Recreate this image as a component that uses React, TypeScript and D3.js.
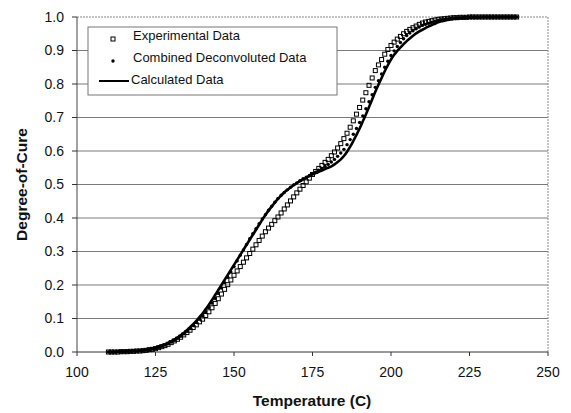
import React from "react";
import * as d3 from "d3";

const temps: number[] = d3.range(110, 241, 1);

const calculated: number[] = [
  0, 0, 0, 0.001, 0.001, 0.001, 0.002, 0.002, 0.003, 0.003,
  0.004, 0.005, 0.006, 0.008, 0.010, 0.012, 0.015, 0.018, 0.022, 0.027,
  0.032, 0.037, 0.043, 0.050, 0.057, 0.065, 0.074, 0.083, 0.093, 0.104,
  0.115, 0.128, 0.141, 0.155, 0.170, 0.185, 0.200, 0.215, 0.230, 0.245,
  0.260, 0.275, 0.290, 0.305, 0.320, 0.335, 0.350, 0.365, 0.380, 0.395,
  0.409, 0.422, 0.434, 0.446, 0.457, 0.467, 0.476, 0.484, 0.491, 0.498,
  0.504, 0.510, 0.515, 0.520, 0.525, 0.530, 0.534, 0.538, 0.542, 0.546,
  0.550, 0.554, 0.560, 0.567, 0.575, 0.585, 0.598, 0.613, 0.630, 0.648,
  0.667, 0.688, 0.709, 0.731, 0.754, 0.777, 0.798, 0.818, 0.838, 0.856,
  0.873, 0.887, 0.899, 0.909, 0.919, 0.928, 0.936, 0.944, 0.951, 0.957,
  0.962, 0.967, 0.972, 0.976, 0.980, 0.984, 0.987, 0.989, 0.991, 0.993,
  0.995, 0.996, 0.997, 0.997, 0.998, 0.998, 0.999, 0.999, 0.999, 1.0,
  1, 1, 1, 1, 1, 1, 1, 1, 1, 1, 1,
];

const experimental: number[] = [
  0, 0, 0, 0, 0.001, 0.001, 0.001, 0.002, 0.002, 0.003,
  0.003, 0.004, 0.005, 0.007, 0.008, 0.010, 0.013, 0.016, 0.019, 0.023,
  0.028, 0.033, 0.038, 0.044, 0.051, 0.058, 0.065, 0.073, 0.081, 0.090,
  0.098, 0.109, 0.120, 0.132, 0.145, 0.159, 0.173, 0.187, 0.201, 0.215,
  0.229, 0.242, 0.255, 0.268, 0.281, 0.294, 0.307, 0.320, 0.333, 0.346,
  0.359, 0.370, 0.381, 0.392, 0.403, 0.415, 0.427, 0.439, 0.451, 0.463,
  0.475, 0.486, 0.497, 0.508, 0.519, 0.530, 0.539, 0.548, 0.557, 0.566,
  0.575, 0.586, 0.597, 0.609, 0.622, 0.637, 0.653, 0.671, 0.690, 0.710,
  0.730, 0.752, 0.774, 0.796, 0.818, 0.840, 0.857, 0.873, 0.889, 0.903,
  0.915, 0.925, 0.934, 0.942, 0.950, 0.957, 0.963, 0.968, 0.973, 0.978,
  0.982, 0.985, 0.987, 0.989, 0.991, 0.993, 0.994, 0.995, 0.996, 0.997,
  0.998, 0.998, 0.999, 0.999, 0.999, 1.0, 1.0, 1.0, 1.0, 1.0,
  1, 1, 1, 1, 1, 1, 1, 1, 1, 1, 1,
];

const deconvoluted: number[] = [
  0, 0, 0, 0.001, 0.001, 0.001, 0.002, 0.002, 0.003, 0.003,
  0.004, 0.005, 0.006, 0.007, 0.009, 0.011, 0.014, 0.017, 0.021, 0.025,
  0.030, 0.035, 0.041, 0.047, 0.054, 0.062, 0.070, 0.079, 0.088, 0.098,
  0.108, 0.120, 0.133, 0.146, 0.160, 0.175, 0.191, 0.207, 0.223, 0.239,
  0.255, 0.272, 0.289, 0.305, 0.321, 0.338, 0.353, 0.368, 0.383, 0.397,
  0.410, 0.423, 0.435, 0.447, 0.458, 0.468, 0.476, 0.484, 0.492, 0.499,
  0.505, 0.511, 0.517, 0.522, 0.527, 0.532, 0.537, 0.543, 0.548, 0.554,
  0.560, 0.567, 0.575, 0.584, 0.594, 0.605, 0.619, 0.634, 0.650, 0.667,
  0.685, 0.705, 0.726, 0.747, 0.768, 0.790, 0.810, 0.830, 0.850, 0.868,
  0.885, 0.899, 0.912, 0.924, 0.935, 0.945, 0.952, 0.959, 0.965, 0.970,
  0.975, 0.978, 0.981, 0.984, 0.987, 0.990, 0.992, 0.993, 0.994, 0.996,
  0.997, 0.998, 0.998, 0.999, 0.999, 1.0, 1.0, 1.0, 1.0, 1.0,
  1, 1, 1, 1, 1, 1, 1, 1, 1, 1, 1,
];

const xTicks: number[] = [100, 125, 150, 175, 200, 225, 250];
const yTicks: number[] = [0, 0.1, 0.2, 0.3, 0.4, 0.5, 0.6, 0.7, 0.8, 0.9, 1.0];
const legendLabels: string[] = ["Experimental Data", "Combined Deconvoluted Data", "Calculated Data"];

const W = 571;
const H = 413;
const M = { left: 77, right: 548, top: 17, bottom: 352 };
const FONT = "'Liberation Sans', Arial, sans-serif";

export default function App() {
  const x = d3.scaleLinear().domain([100, 250]).range([M.left, M.right]);
  const y = d3.scaleLinear().domain([0, 1]).range([M.bottom, M.top]);
  const line = d3
    .line<number>()
    .x((_, i) => x(temps[i]))
    .y((d) => y(d))
    .curve(d3.curveMonotoneX);

  return (
    <svg
      width={W}
      height={H}
      style={{ position: "absolute", left: 0, top: 0, background: "#fff" }}
      fontFamily={FONT}
    >
      {/* gridlines */}
      {yTicks.slice(1, -1).map((t) => (
        <line key={"g" + t} x1={M.left} x2={M.right} y1={y(t)} y2={y(t)} stroke="#7a7a7a" strokeWidth={1} />
      ))}
      {/* plot border top/right dotted */}
      <line x1={M.left} x2={M.right} y1={y(1)} y2={y(1)} stroke="#888" strokeWidth={1} strokeDasharray="2,1" />
      <line x1={M.right} x2={M.right} y1={M.top} y2={M.bottom} stroke="#888" strokeWidth={1} strokeDasharray="2,1" />
      {/* axes */}
      <line x1={M.left} x2={M.left} y1={M.top} y2={M.bottom} stroke="#444" strokeWidth={1} />
      <line x1={M.left} x2={M.right} y1={M.bottom} y2={M.bottom} stroke="#333" strokeWidth={1} />
      {yTicks.map((t) => (
        <g key={"y" + t}>
          <line x1={M.left - 5} x2={M.left} y1={y(t)} y2={y(t)} stroke="#333" />
          <text x={64} y={y(t)} dy="0.35em" textAnchor="end" fontSize={14} fill="#111">
            {t.toFixed(1)}
          </text>
        </g>
      ))}
      {xTicks.map((t) => (
        <g key={"x" + t}>
          <line x1={x(t)} x2={x(t)} y1={M.bottom} y2={M.bottom + 4} stroke="#333" />
          <text x={x(t)} y={377} textAnchor="middle" fontSize={14} fill="#111">
            {t}
          </text>
        </g>
      ))}
      {/* axis titles */}
      <text x={312} y={406} textAnchor="middle" fontSize={15.5} fontWeight="bold" fill="#111">
        Temperature (C)
      </text>
      <text
        transform={`translate(27,${(M.top + M.bottom) / 2}) rotate(-90)`}
        textAnchor="middle"
        fontSize={15.5}
        fontWeight="bold"
        fill="#111"
      >
        Degree-of-Cure
      </text>

      {/* calculated line */}
      <path d={line(calculated) || ""} fill="none" stroke="#000" strokeWidth={2.6} />
      {/* deconvoluted dots */}
      {deconvoluted.map((v, i) => (
        <circle key={"d" + i} cx={x(temps[i])} cy={y(v)} r={1.7} fill="#000" />
      ))}
      {/* experimental squares */}
      {experimental.map((v, i) => (
        <rect
          key={"e" + i}
          x={x(temps[i]) - 2}
          y={y(v) - 2}
          width={4}
          height={4}
          fill="none"
          stroke="#000"
          strokeWidth={1}
        />
      ))}

      {/* legend */}
      <rect x={88} y={27} width={249} height={68} fill="#fff" stroke="#777" strokeWidth={1} />
      <rect x={111} y={37} width={4} height={4} fill="none" stroke="#000" strokeWidth={1} />
      <text x={133} y={35} dy="0.35em" fontSize={13} fill="#111">{legendLabels[0]}</text>
      <circle cx={113} cy={61} r={1.7} fill="#000" />
      <text x={133} y={57} dy="0.35em" fontSize={13} fill="#111">{legendLabels[1]}</text>
      <line x1={99} x2={129} y1={81} y2={81} stroke="#000" strokeWidth={2} />
      <text x={131} y={79} dy="0.35em" fontSize={13} fill="#111">{legendLabels[2]}</text>
    </svg>
  );
}
